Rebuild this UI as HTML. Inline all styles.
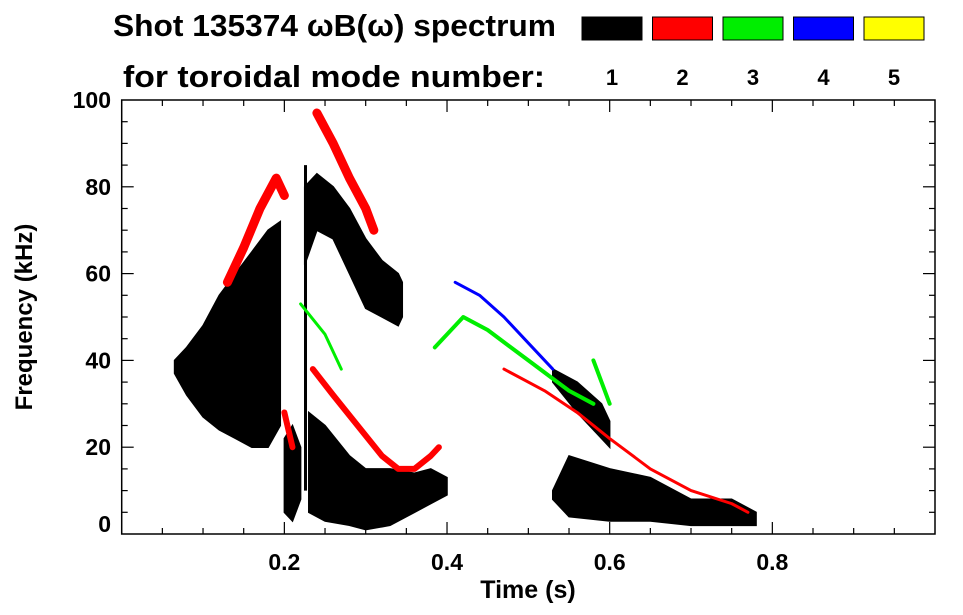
<!DOCTYPE html>
<html><head><meta charset="utf-8">
<style>
html,body{margin:0;padding:0;background:#fff;}
svg{display:block;font-family:"Liberation Sans",Arial,sans-serif;font-weight:bold;}
</style></head>
<body>
<svg id="chart" width="963" height="615" viewBox="0 0 963 615">
  <text x="113" y="36" font-size="31" textLength="443" lengthAdjust="spacingAndGlyphs">Shot 135374 ωB(ω) spectrum</text>
  <text x="123" y="87" font-size="31" textLength="422" lengthAdjust="spacingAndGlyphs">for toroidal mode number:</text>
  <g id="legend"></g>
  <g id="marks"></g>
  <g id="axes"></g>
  <text x="528" y="598" font-size="25" text-anchor="middle">Time (s)</text>
  <text transform="translate(32,317) rotate(-90)" font-size="24" text-anchor="middle">Frequency (kHz)</text>
</svg>
<script>
const modeLabels = ['1','2','3','4','5'];
const modeColors = ['#000000','#ff0000','#00ee00','#0000ff','#ffff00'];
const xTicks = [0.2,0.4,0.6,0.8];
const xTickLabels = ['0.2','0.4','0.6','0.8'];
const yTicks = [0,20,40,60,80,100];
const yTickLabels = ['0','20','40','60','80','100'];
// mode 1 bands: [time, lowFreq, highFreq]
const bandA = [[0.065,37,40],[0.08,32,43],[0.1,27,48],[0.12,24,55],[0.14,22,60],[0.16,20,65],[0.18,20,70],[0.195,25,72]];
const bandB = [[0.2,5,22],[0.21,3,25],[0.22,8,20]];
const bandC = [[0.225,62,80],[0.24,70,83],[0.26,68,80],[0.28,60,75],[0.3,52,68],[0.32,50,63],[0.34,48,60],[0.345,50,58]];
const bandD = [[0.23,5,28],[0.25,3,25],[0.28,2,18],[0.3,1,15],[0.33,2,15],[0.36,5,14],[0.38,7,15],[0.4,9,13]];
const bandE = [[0.53,8,10],[0.55,4,18],[0.6,3,15],[0.65,3,13],[0.7,2,8],[0.75,2,8],[0.78,2,5]];
const bandF = [[0.53,35,38],[0.56,28,35],[0.59,22,30],[0.6,20,26]];
const streak1 = [[0.226,10,85]];
// ridges: [time, freq]
const redA = [[0.13,58],[0.15,66],[0.17,75],[0.19,82],[0.2,78]];
const redB = [[0.24,97],[0.26,90],[0.28,82],[0.3,75],[0.31,70]];
const redC = [[0.2,28],[0.21,20]];
const redD = [[0.235,38],[0.26,32],[0.29,25],[0.32,18],[0.34,15],[0.36,15],[0.38,18],[0.39,20]];
const redE = [[0.47,38],[0.52,33],[0.56,28],[0.6,22],[0.65,15],[0.7,10],[0.75,7],[0.77,5]];
const greenA = [[0.22,53],[0.25,46],[0.27,38]];
const greenB = [[0.385,43],[0.41,48],[0.42,50],[0.45,47],[0.5,40],[0.55,33],[0.58,30]];
const greenC = [[0.58,40],[0.59,35],[0.6,30]];
const blueA = [[0.41,58],[0.44,55],[0.47,50],[0.5,44],[0.53,38]];

const NS='http://www.w3.org/2000/svg';
const L=121.7,R=935,T=100,B=534;
const xs=t=>L+t*(R-L)/1.0;
const ys=f=>B-f*(B-T)/100;
function mk(tag,attrs,parent){const e=document.createElementNS(NS,tag);for(const k in attrs)e.setAttribute(k,attrs[k]);parent.appendChild(e);return e;}
const marks=document.getElementById('marks'),axes=document.getElementById('axes'),legend=document.getElementById('legend');

modeLabels.forEach((m,i)=>{
  const x=582+i*70.5;
  const r=mk('rect',{x:x,y:17,width:60,height:23,fill:modeColors[i],stroke:'#000','stroke-width':1},legend);
  
  
  const t=mk('text',{x:x+30,y:85,'font-size':22,'text-anchor':'middle'},legend);
  t.textContent=m;
  
  
});

function band(arr,name){
  if(arr.length===1){const l=mk('line',{x1:xs(arr[0][0]),x2:xs(arr[0][0]),y1:ys(arr[0][1]),y2:ys(arr[0][2]),stroke:'#000','stroke-width':3},marks);return;}
  let top=arr.map(p=>xs(p[0])+','+ys(p[2]));
  let bot=arr.slice().reverse().map(p=>xs(p[0])+','+ys(p[1]));
  const e=mk('polygon',{points:top.concat(bot).join(' '),fill:'#000',stroke:'#000','stroke-width':1.5},marks);
  
  
}
function ridge(arr,color,w,name){
  const e=mk('polyline',{points:arr.map(p=>xs(p[0])+','+ys(p[1])).join(' '),fill:'none',stroke:color,'stroke-width':w,'stroke-linejoin':'round','stroke-linecap':'round'},marks);
  
  
}
band(bandA,'mode1-band-early');
band(bandB,'mode1-band-02s');
band(bandC,'mode1-band-upper');
band(bandD,'mode1-band-lower');
band(bandE,'mode1-band-late');
band(bandF,'mode1-band-late-mid');
band(streak1,'mode1-streak');
ridge(redA,'#ff0000',9,'mode2-ridge-a');
ridge(redB,'#ff0000',9,'mode2-ridge-b');
ridge(redC,'#ff0000',6,'mode2-ridge-c');
ridge(redD,'#ff0000',6,'mode2-ridge-d');
ridge(redE,'#ff0000',3,'mode2-ridge-e');
ridge(greenA,'#00ee00',3,'mode3-ridge-a');
ridge(greenB,'#00ee00',4,'mode3-ridge-b');
ridge(greenC,'#00ee00',4,'mode3-ridge-c');
ridge(blueA,'#0000ff',3,'mode4-ridge-a');

const fr=mk('rect',{x:L,y:T,width:R-L,height:B-T,fill:'none',stroke:'#000','stroke-width':1.5},axes);


for(let i=1;i<20;i++){
  const x=xs(i*0.05),len=(i%4===0)?12:6;
  mk('line',{x1:x,x2:x,y1:B,y2:B-len,stroke:'#000','stroke-width':1.2},axes);
  mk('line',{x1:x,x2:x,y1:T,y2:T+len,stroke:'#000','stroke-width':1.2},axes);
}
for(let i=1;i<20;i++){
  const y=ys(i*5),len=(i%4===0)?12:6;
  mk('line',{x1:L,x2:L+len,y1:y,y2:y,stroke:'#000','stroke-width':1.2},axes);
  mk('line',{x1:R,x2:R-len,y1:y,y2:y,stroke:'#000','stroke-width':1.2},axes);
}
xTicks.forEach((t,i)=>{
  const e=mk('text',{x:xs(t),y:570,'font-size':23,'text-anchor':'middle'},axes);
  e.textContent=xTickLabels[i];
  
  
});
yTicks.forEach((f,i)=>{
  const e=mk('text',{x:111,y:Math.min(ys(f)+8,532),'font-size':23,'text-anchor':'end'},axes);
  e.textContent=yTickLabels[i];
  
  
});
</script>
</body></html>
